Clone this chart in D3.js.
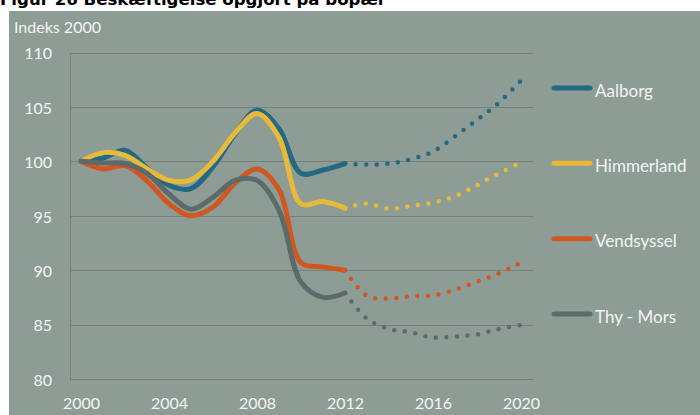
<!DOCTYPE html>
<html>
<head>
<meta charset="utf-8">
<script src="https://cdn.jsdelivr.net/npm/d3@7"></script>
<style>
  html, body { margin: 0; padding: 0; background: #ffffff; }
  svg { display: block; }
</style>
</head>
<body>
<div id="chart"></div>
<script>
// ---- Data ----
const title = "Figur 26 Beskæftigelse opgjort på bopæl";
const yAxisTitle = "Indeks 2000";
const actualYears = [2000, 2001, 2002, 2003, 2004, 2005, 2006, 2007, 2008, 2009, 2010, 2011, 2012];
const projYears = [2012, 2013, 2014, 2015, 2016, 2017, 2018, 2019, 2020];
const seriesNames = ["Aalborg", "Himmerland", "Vendsyssel", "Thy - Mors"];
const seriesColors = ["#256882", "#e9b93a", "#d2561f", "#5b6a6a"];

const aalborgActual = [100, 100.3, 101.0, 99.4, 97.8, 97.5, 99.5, 102.5, 104.7, 103.0, 98.9, 99.2, 99.8];
const aalborgProj = [99.8, 99.7, 99.8, 100.2, 100.9, 102.3, 103.8, 105.4, 107.4];
const himmerlandActual = [100, 100.8, 100.55, 99.3, 98.25, 98.3, 100.0, 102.6, 104.4, 102.2, 96.1, 96.3, 95.7];
const himmerlandProj = [95.7, 96.1, 95.65, 95.9, 96.2, 96.8, 97.8, 98.9, 99.9];
const vendsysselActual = [100, 99.3, 99.6, 98.2, 96.1, 95.0, 95.8, 98.0, 99.3, 97.4, 90.7, 90.3, 90.0];
const vendsysselProj = [90.0, 87.65, 87.4, 87.6, 87.7, 88.2, 88.96, 89.7, 90.7];
const thyMorsActual = [100, 99.85, 99.8, 98.9, 97.0, 95.6, 96.7, 98.25, 98.25, 95.5, 88.9, 87.5, 87.9];
const thyMorsProj = [87.9, 85.55, 84.6, 84.3, 83.8, 83.9, 84.1, 84.6, 84.97];

const yTicks = [80, 85, 90, 95, 100, 105, 110];
const xTicks = [2000, 2004, 2008, 2012, 2016, 2020];

const actuals = [aalborgActual, himmerlandActual, vendsysselActual, thyMorsActual];
const projs = [aalborgProj, himmerlandProj, vendsysselProj, thyMorsProj];

// ---- Layout ----
const W = 700, H = 415;
const plotLeft = 70, plotRight = 533, plotTop = 52.5, plotBottom = 379;
const panelColor = "#8d9d95";
const gridColor = "#7b807c";
const textColor = "#f4f4f4";
const font = "Lato, 'Open Sans', sans-serif";

const svg = d3.select("#chart").append("svg").attr("width", W).attr("height", H);

// Panel background
svg.append("rect").attr("x", 9).attr("y", 11).attr("width", W - 9).attr("height", H - 11).attr("fill", panelColor);

// Title (clipped at top, as in the reference)
svg.append("text").attr("x", 0).attr("y", 5)
  .attr("font-family", "'DejaVu Sans', Verdana, sans-serif").attr("font-weight", "bold")
  .attr("font-size", 16.6).attr("fill", "#000").text(title);

// Scales
const x = d3.scaleLinear().domain([2000, 2020]).range([81, 521]);
const y = d3.scaleLinear().domain([80, 110]).range([plotBottom, plotTop]);

// Gridlines
svg.append("g").selectAll("line").data(yTicks).join("line")
  .attr("x1", plotLeft).attr("x2", plotRight)
  .attr("y1", d => Math.round(y(d)) + 0.5).attr("y2", d => Math.round(y(d)) + 0.5)
  .attr("stroke", gridColor).attr("stroke-width", 1);
// Left axis line
svg.append("line").attr("x1", plotLeft + 0.5).attr("x2", plotLeft + 0.5)
  .attr("y1", Math.round(plotTop) + 0.5).attr("y2", Math.round(plotBottom) + 0.5)
  .attr("stroke", gridColor).attr("stroke-width", 1);

// Y axis (labels only)
const yAxis = d3.axisLeft(y).tickValues(yTicks).tickSize(0).tickPadding(0);
const gy = svg.append("g").attr("transform", "translate(52,0)").call(yAxis);
gy.select(".domain").remove();
gy.selectAll("text").attr("font-family", font).attr("font-size", 16).attr("fill", textColor).attr("dy", "0.4em");

// X axis (labels only)
const xAxis = d3.axisBottom(x).tickValues(xTicks).tickFormat(d3.format("d")).tickSize(0).tickPadding(0);
const gx = svg.append("g").attr("transform", "translate(0,397)").call(xAxis);
gx.select(".domain").remove();
gx.selectAll("text").attr("font-family", font).attr("font-size", 16).attr("fill", textColor).attr("dy", "0.75em");

// Y axis title
svg.append("text").attr("x", 14).attr("y", 33).attr("font-family", font).attr("font-size", 16)
  .attr("fill", textColor).text(yAxisTitle);

// Lines
const line = d3.line().x(d => x(d[0])).y(d => y(d[1])).curve(d3.curveCatmullRom.alpha(0.5));
const order = [0, 1, 2, 3];
order.forEach(i => {
  const proj = projYears.map((yr, j) => [yr, projs[i][j]]);
  svg.append("path").datum(proj).attr("d", line).attr("fill", "none")
    .attr("stroke", seriesColors[i]).attr("stroke-width", 4.5)
    .attr("stroke-linecap", "round").attr("stroke-dasharray", "0,10.6");
});
order.forEach(i => {
  const act = actualYears.map((yr, j) => [yr, actuals[i][j]]);
  svg.append("path").datum(act).attr("d", line).attr("fill", "none")
    .attr("stroke", seriesColors[i]).attr("stroke-width", 5)
    .attr("stroke-linecap", "round").attr("stroke-linejoin", "round");
});

// Legend
const legendY = d3.scalePoint().domain(seriesNames).range([88, 314]);
const lg = svg.append("g").selectAll("g").data(seriesNames).join("g")
  .attr("transform", d => `translate(0,${legendY(d)})`);
lg.append("line").attr("x1", 554).attr("x2", 590).attr("y1", 0).attr("y2", 0)
  .attr("stroke", (d, i) => seriesColors[i]).attr("stroke-width", 5).attr("stroke-linecap", "round");
lg.append("text").attr("x", 595).attr("y", 8.5).attr("font-family", font).attr("font-size", 17)
  .attr("fill", textColor).text(d => d);
</script>
</body>
</html>
